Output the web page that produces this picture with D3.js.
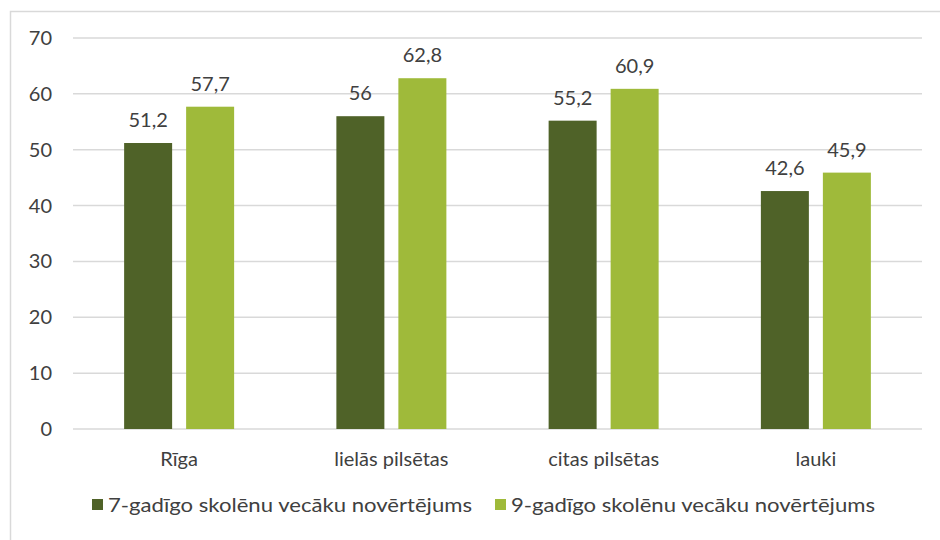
<!DOCTYPE html>
<html><head><meta charset="utf-8">
<script src="https://cdn.jsdelivr.net/npm/d3@7"></script>
<style>body{margin:0;background:#fff}svg{display:block}text{font-family:Lato,"Open Sans",sans-serif;fill:#404040}</style>
</head><body>
<svg id="c" width="940" height="540"></svg>
<script>
const categories = ["Rīga", "lielās pilsētas", "citas pilsētas", "lauki"];
const series7 = [51.2, 56, 55.2, 42.6];
const series9 = [57.7, 62.8, 60.9, 45.9];
const seriesNames = ["7-gadīgo skolēnu vecāku novērtējums", "9-gadīgo skolēnu vecāku novērtējums"];
const yTicks = [0, 10, 20, 30, 40, 50, 60, 70];
const colors = ["#4f6228", "#9fba3a"];

(function () {
const svg = d3.select("#c");
svg.append("path").attr("d", "M10.5,540 V11.5 H940").attr("fill", "none").attr("stroke", "#d9d9d9").attr("stroke-width", 1.5);

const mL = 73, mR = 922, mT = 38, mB = 429;
const fs = 20;
const x = d3.scaleBand().domain(categories).range([mL, mR]);
const y = d3.scaleLinear().domain([0, 70]).range([mB, mT]);

svg.append("g").selectAll("line").data(yTicks).join("line")
  .attr("x1", mL).attr("x2", mR)
  .attr("y1", d => y(d)).attr("y2", d => y(d))
  .attr("stroke", "#d9d9d9").attr("stroke-width", 1.5);

svg.append("g").selectAll("text").data(yTicks).join("text")
  .attr("x", 52).attr("y", d => y(d)).attr("dy", "0.35em")
  .attr("text-anchor", "end").attr("font-size", fs).text(d => d);

const barW = 48, gap = 14;
const fmt = v => String(v).replace(".", ",");
[series7, series9].forEach((s, k) => {
  const off = k === 0 ? -(gap / 2 + barW) : gap / 2;
  svg.append("g").selectAll("rect").data(s).join("rect")
    .attr("x", (d, i) => x(categories[i]) + x.bandwidth() / 2 + off)
    .attr("y", d => y(d)).attr("width", barW).attr("height", d => y(0) - y(d))
    .attr("fill", colors[k]);
  svg.append("g").selectAll("text").data(s).join("text")
    .attr("x", (d, i) => x(categories[i]) + x.bandwidth() / 2 + off + barW / 2)
    .attr("y", d => y(d) - 16).attr("text-anchor", "middle").attr("font-size", fs)
    .text(d => fmt(d));
});

svg.append("g").selectAll("text").data(categories).join("text")
  .attr("x", d => x(d) + x.bandwidth() / 2).attr("y", 466)
  .attr("text-anchor", "middle").attr("font-size", fs).text(d => d);

const legX = [92, 495];
seriesNames.forEach((n, k) => {
  svg.append("rect").attr("x", legX[k]).attr("y", 499).attr("width", 11).attr("height", 11).attr("fill", colors[k]);
  svg.append("text").attr("x", legX[k] + 16).attr("y", 505).attr("dy", "0.35em")
    .attr("font-size", fs).attr("textLength", 364).attr("lengthAdjust", "spacingAndGlyphs").text(n);
});
})();
</script>
</body></html>
